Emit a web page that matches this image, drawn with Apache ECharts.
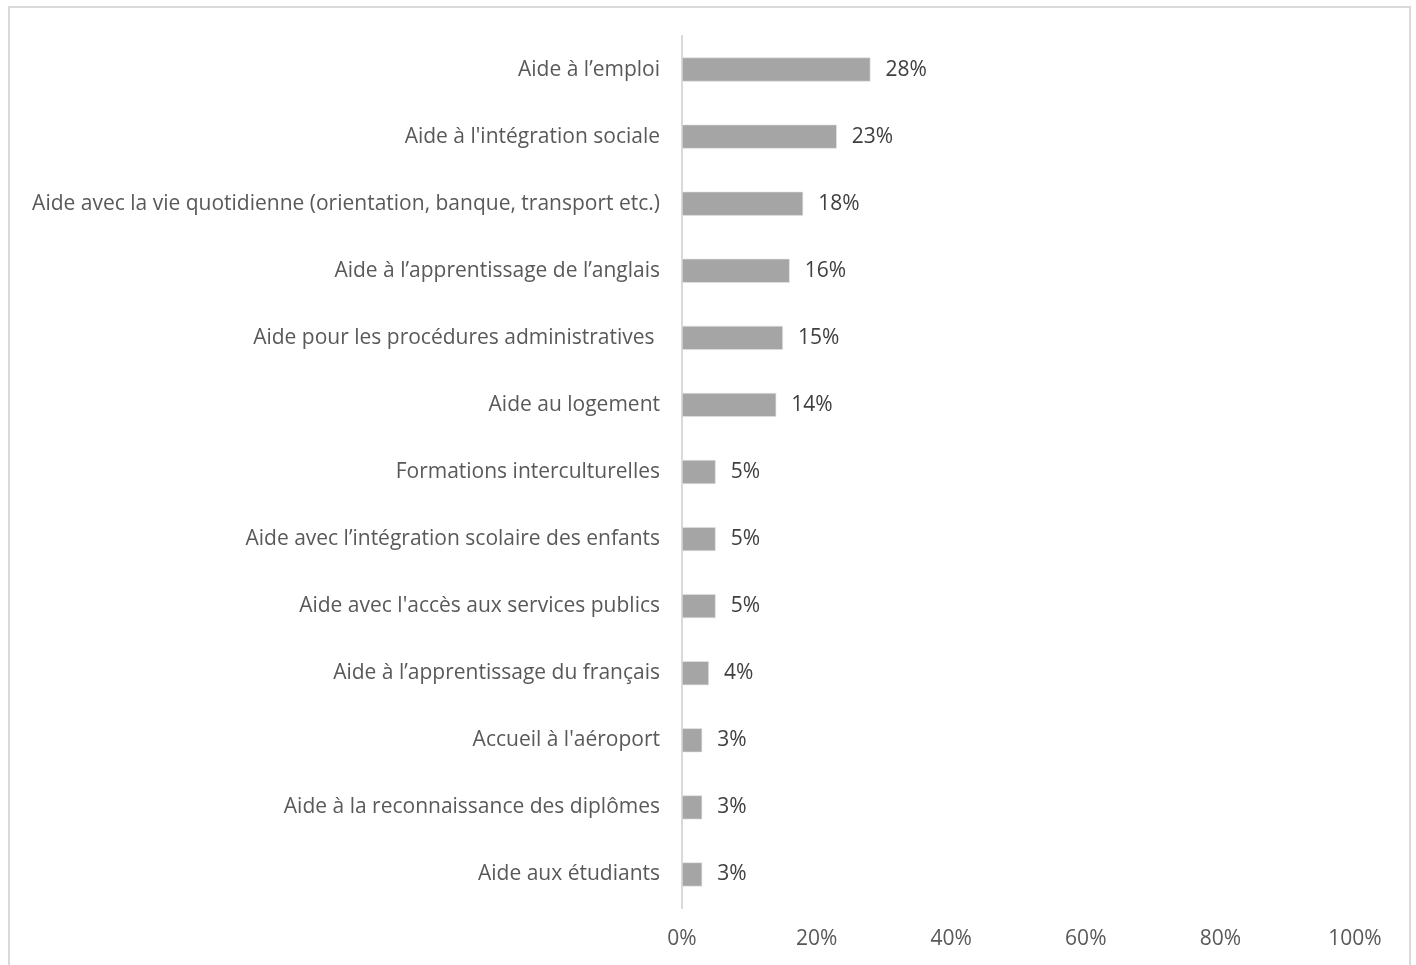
<!DOCTYPE html>
<html>
<head>
<meta charset="utf-8">
<style>
  html, body { margin: 0; padding: 0; background: #ffffff; }
  #frame { position: absolute; left: 8px; top: 6px; width: 1403px; height: 970px; border: 2px solid #d9d9d9; box-sizing: border-box; }
  #chart { position: absolute; left: 0; top: 0; width: 1416px; height: 965px; }
</style>
<script src="https://cdn.jsdelivr.net/npm/echarts@6/dist/echarts.min.js"></script>
</head>
<body>
<div id="frame"></div>
<div id="chart"></div>
<script>
// Services d'aide, du plus cité au moins cité (part des répondants, %)
const categories = [
  "Aide à l’emploi",
  "Aide à l'intégration sociale",
  "Aide avec la vie quotidienne (orientation, banque, transport etc.)",
  "Aide à l’apprentissage de l’anglais",
  "Aide pour les procédures administratives ",
  "Aide au logement",
  "Formations interculturelles",
  "Aide avec l’intégration scolaire des enfants",
  "Aide avec l'accès aux services publics",
  "Aide à l’apprentissage du français",
  "Accueil à l'aéroport",
  "Aide à la reconnaissance des diplômes",
  "Aide aux étudiants"
];
const values = [28, 23, 18, 16, 15, 14, 5, 5, 5, 4, 3, 3, 3];
const xTicks = [0, 20, 40, 60, 80, 100];

const FONT = "Open Sans";
const chart = echarts.init(document.getElementById("chart"), null, { renderer: "canvas" });

chart.setOption({
  animation: false,
  backgroundColor: "transparent",
  grid: { left: 682, right: 61, top: 36, bottom: 57, containLabel: false },
  xAxis: {
    type: "value",
    min: xTicks[0],
    max: xTicks[xTicks.length - 1],
    interval: 20,
    axisLine: { show: false },
    axisTick: { show: false },
    splitLine: { show: false },
    axisLabel: {
      formatter: v => v + "%",
      color: "#595959",
      fontFamily: FONT,
      fontSize: 21,
      margin: 21
    }
  },
  yAxis: {
    type: "category",
    data: categories,
    inverse: true,
    axisLine: { show: true, lineStyle: { color: "#d9d9d9", width: 2 } },
    axisTick: { show: false },
    axisLabel: {
      color: "#595959",
      fontFamily: FONT,
      fontSize: 21,
      margin: 22
    }
  },
  series: [{
    type: "bar",
    data: values,
    barWidth: 24,
    itemStyle: { color: "#a5a5a5", borderColor: "#e4e4e4", borderWidth: 0.6 },
    label: {
      show: true,
      position: "right",
      distance: 15,
      formatter: p => p.value + "%",
      color: "#404040",
      fontFamily: FONT,
      fontSize: 21
    }
  }]
});
</script>
</body>
</html>
